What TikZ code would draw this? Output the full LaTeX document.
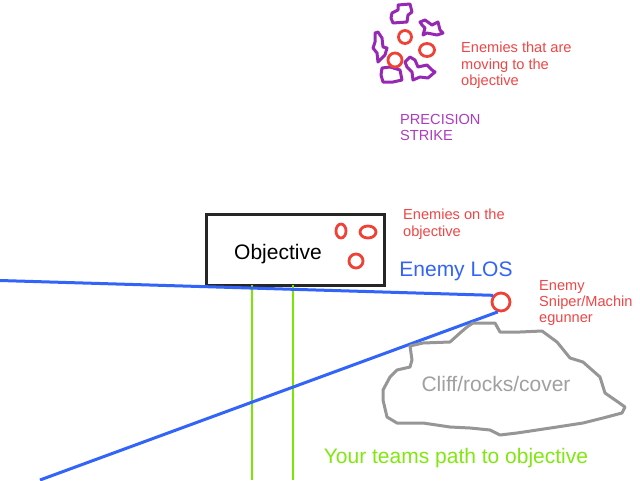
\documentclass[tikz,border=0pt]{standalone}
\usepackage{fontspec}
\setmainfont{Liberation Sans}
\usetikzlibrary{shapes.geometric}
\definecolor{losblue}{RGB}{50,100,250}
\definecolor{enred}{RGB}{240,65,55}
\definecolor{txred}{RGB}{240,70,70}
\definecolor{pathgreen}{RGB}{120,232,0}
\definecolor{txgreen}{RGB}{128,232,16}
\definecolor{strikepurple}{RGB}{150,40,180}
\definecolor{txpurple}{RGB}{172,60,192}
\definecolor{rockgrey}{RGB}{150,150,150}
\definecolor{txgrey}{RGB}{160,160,160}
\tikzset{
  bigtext/.style={font=\fontsize{21}{24}\selectfont, inner sep=0},
  smalltext/.style={font=\fontsize{14.6}{16.3}\selectfont, inner sep=0, anchor=north west, align=left, text=txred},
  enemy/.style={draw=enred, line width=2.8pt, ellipse, inner sep=0},
  los/.style={draw=losblue, line width=3pt},
  pathline/.style={draw=pathgreen, line width=2.8pt},
  squiggle/.style={draw=strikepurple, line width=3pt, line join=round, line cap=round},
  rock/.style={draw=rockgrey, line width=3pt, line join=round}
}
\begin{document}
\begin{tikzpicture}[x=1pt,y=-1pt]
\useasboundingbox (0,0) rectangle (640,480);
\fill[white] (0,0) rectangle (640,480);

% objective box
\node[draw=black!85, line width=3pt, minimum width=178pt, minimum height=71pt, inner sep=0, anchor=north west] (obj) at (205,213) {};
\node[bigtext] (objlbl) at (278,254) {Objective};
\node[enemy, minimum width=10pt, minimum height=14pt] (o1) at (341,231) {};
\node[enemy, minimum width=16pt, minimum height=12pt] (o2) at (368,232) {};
\node[enemy, minimum width=14pt, minimum height=14pt] (o3) at (356,261) {};
\node[smalltext] (onobj) at (403,209) {Enemies on the\\objective};

% green path lines
\coordinate (g1t) at (252,285);
\coordinate (g1b) at (252,480);
\coordinate (g2t) at (293,285);
\coordinate (g2b) at (293,480);
\draw[pathline] (g1t) -- (g1b);
\draw[pathline] (g2t) -- (g2b);

% sniper and lines of sight
\node[enemy, minimum width=18pt, minimum height=18pt] (sniper) at (501,302) {};
\coordinate (los1) at (0,280.5);
\coordinate (los2) at (40,480);
\draw[los] (los1) -- (sniper.140);
\draw[los] (sniper.-108) -- (los2);
\node[bigtext, text=losblue] (loslbl) at (456,271) {Enemy LOS};
\node[smalltext] (sniperlbl) at (539,280) {Enemy\\Sniper/Machin\\egunner};

% cliff / rocks / cover
\draw[rock] (410,346) -- (423,343) -- (450,342) -- (460,333) -- (467,327) -- (473,323) -- (495,323) -- (500,332) -- (520,332) -- (542,331) -- (557,342) -- (570,358) -- (583,362) -- (600,377) -- (605,393) -- (618,402) -- (625,407) -- (622,413) -- (603,418) -- (583,423) -- (557,427) -- (537,430) -- (517,433) -- (500,435) -- (490,430) -- (470,428) -- (450,427) -- (423,423) -- (397,423) -- (387,417) -- (383,400) -- (383,390) -- (390,377) -- (397,370) -- (410,367) -- (412,360) -- cycle;
\node[bigtext, text=txgrey] (cliff) at (496,384) {Cliff/rocks/cover};

% path label
\node[bigtext, text=txgreen] (pathlbl) at (456,458) {Your teams path to objective};

% precision strike cluster
\draw[squiggle] (392,13) -- (398,10) -- (398,5) -- (410,4) -- (412,12) -- (408,15) -- (407,22) -- (393,23) -- (391,18) -- cycle;
\draw[squiggle] (420,22) -- (425,20) -- (432,25) -- (438,22) -- (440,30) -- (443,33) -- (437,35) -- (427,33) -- (423,35) -- (425,28) -- (422,25) -- cycle;
\draw[squiggle] (375,33) -- (378,32) -- (382,38) -- (383,47) -- (387,48) -- (385,55) -- (378,62) -- (377,53) -- (373,48) -- (375,42) -- cycle;
\draw[squiggle] (382,68) -- (390,67) -- (400,70) -- (402,80) -- (393,82) -- (383,82) -- (381,75) -- cycle;
\draw[squiggle] (405,62) -- (410,57) -- (415,60) -- (418,67) -- (427,65) -- (432,70) -- (435,72) -- (428,78) -- (420,77) -- (413,80) -- (412,72) -- (407,67) -- cycle;
\node[enemy, minimum width=13pt, minimum height=13pt] (m1) at (405,37) {};
\node[enemy, minimum width=15pt, minimum height=13pt] (m2) at (427,50) {};
\node[enemy, minimum width=14pt, minimum height=14pt] (m3) at (395,60) {};
\node[smalltext] (movlbl) at (461,42) {Enemies that are\\moving to the\\objective};
\node[smalltext, text=txpurple] (strike) at (400,114) {PRECISION\\STRIKE};
\end{tikzpicture}
\end{document}
